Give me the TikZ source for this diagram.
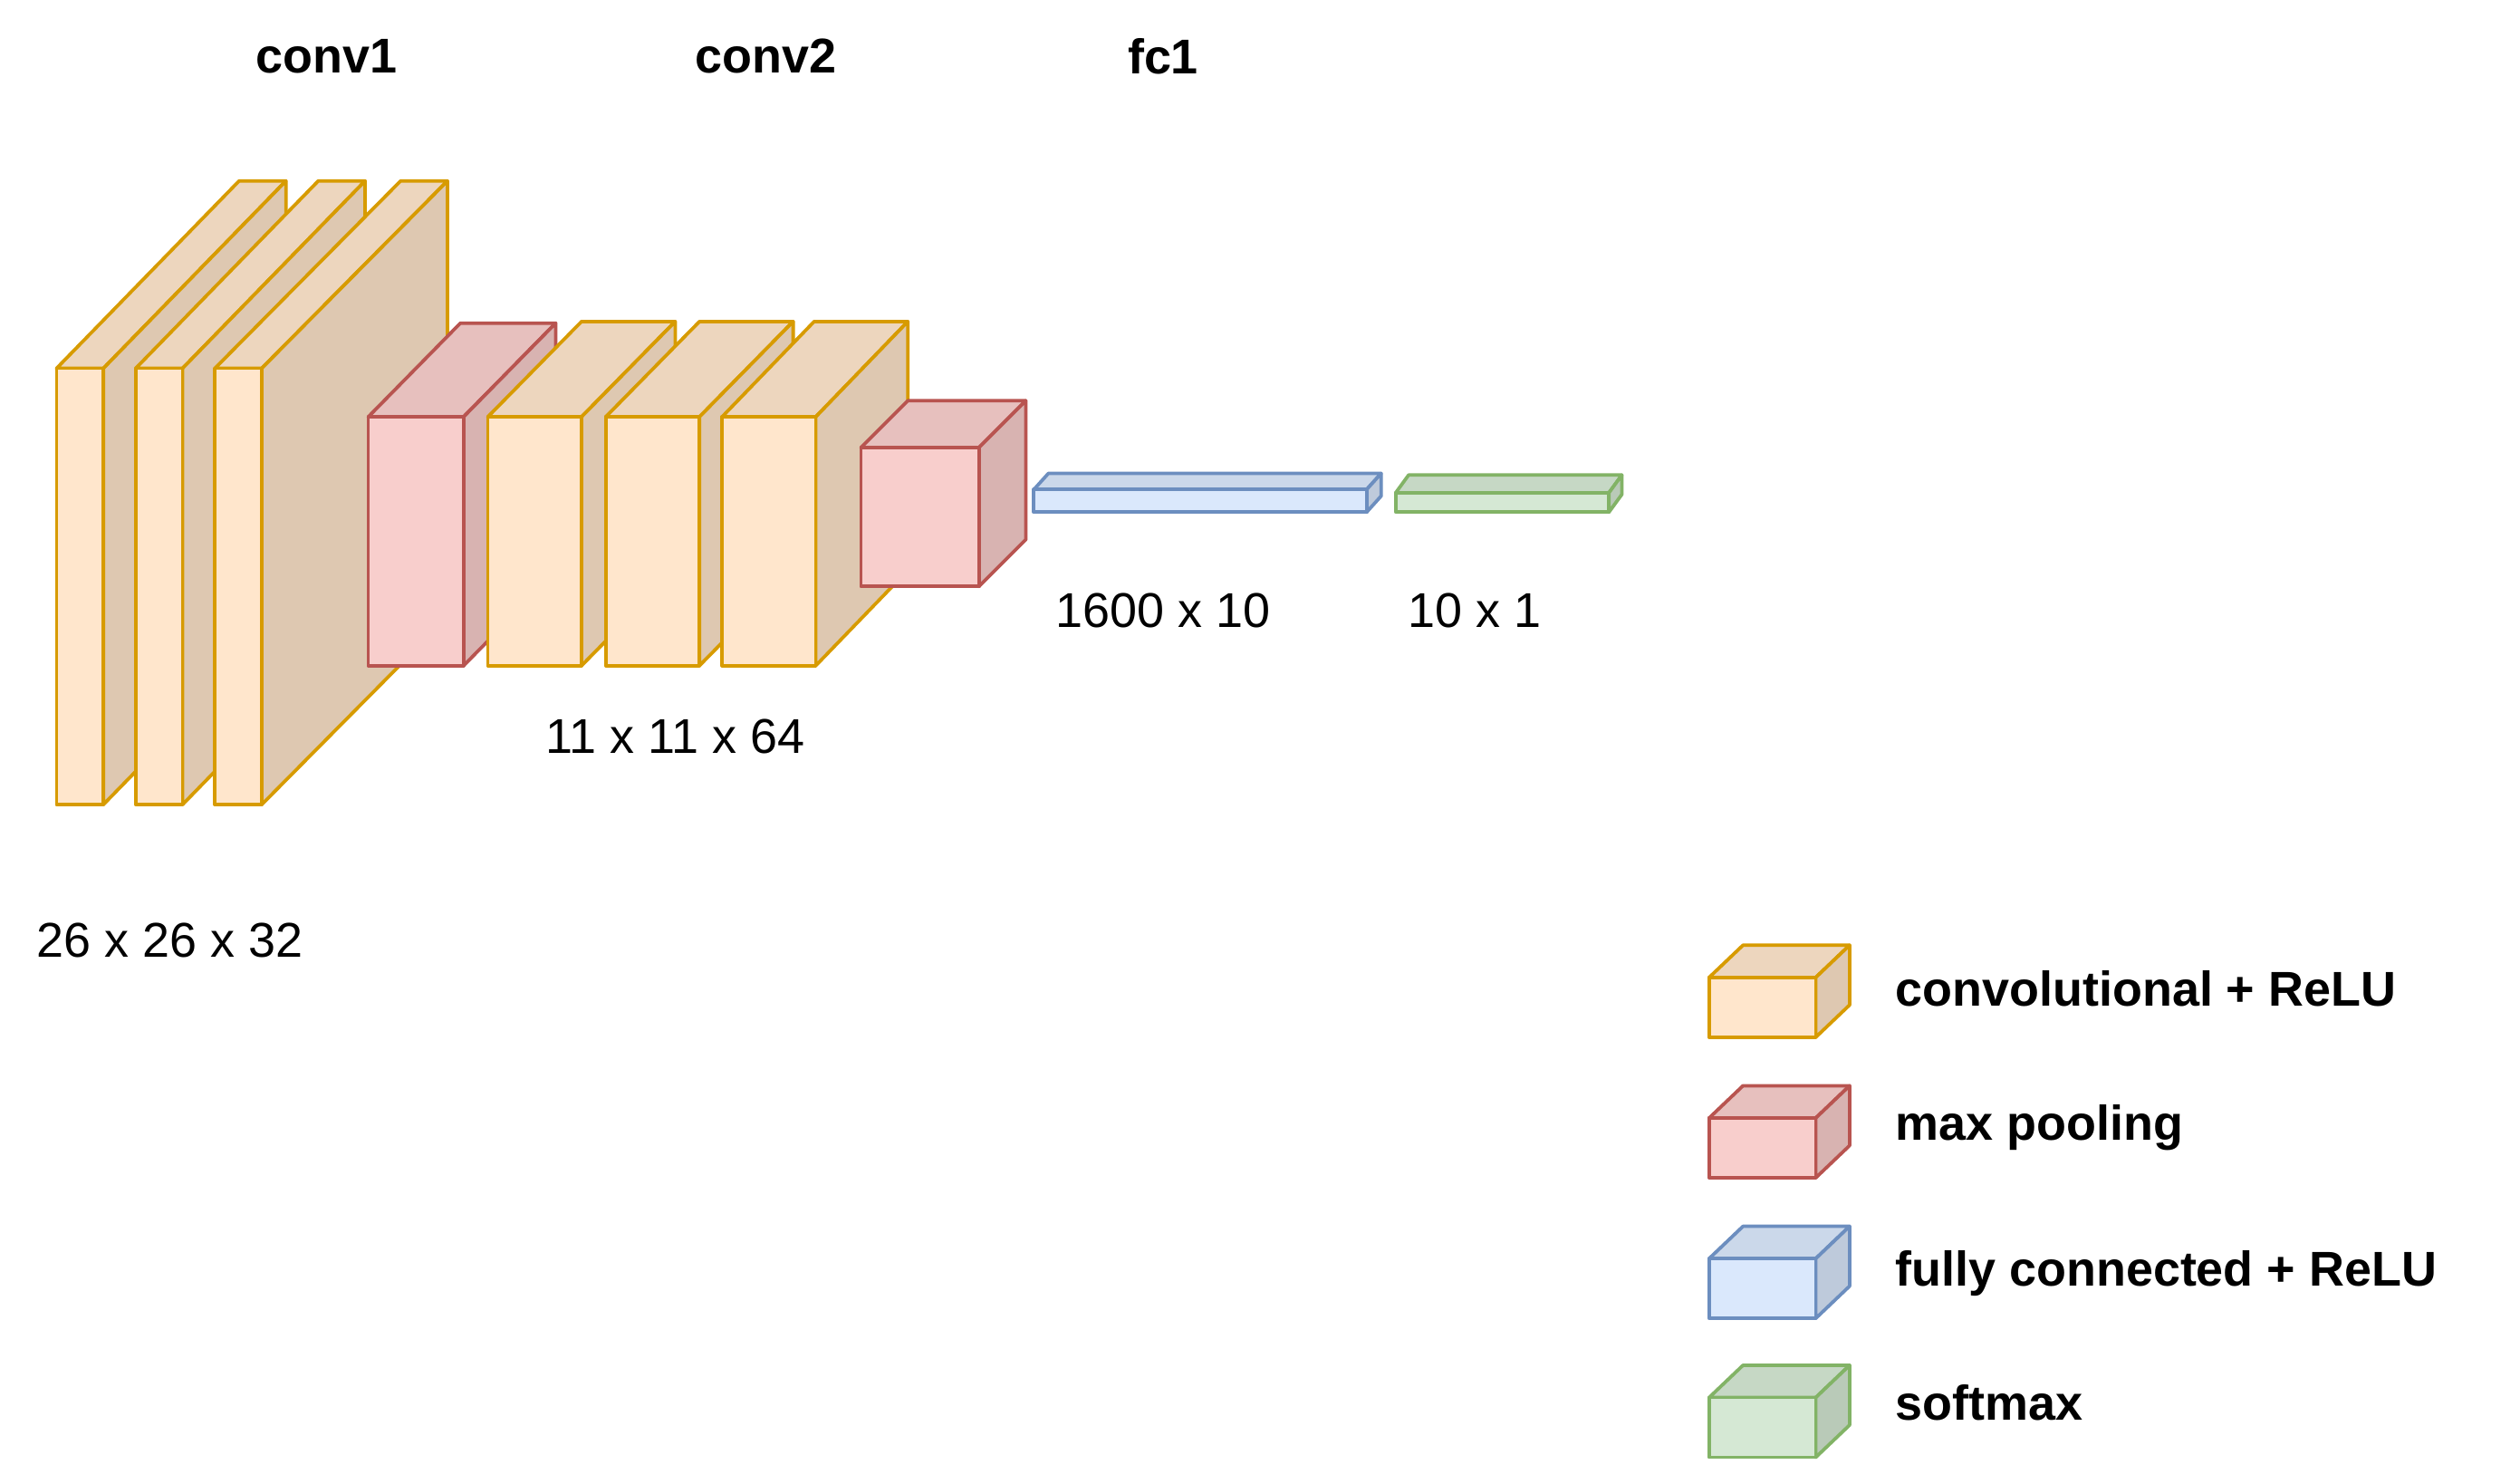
\documentclass[tikz,border=0pt]{standalone}
\usepackage{fontspec}
\setmainfont{Liberation Sans}
\definecolor{oF}{HTML}{FFE6CC}\definecolor{oS}{HTML}{D79B00}
\definecolor{rF}{HTML}{F8CECC}\definecolor{rS}{HTML}{B85450}
\definecolor{bF}{HTML}{DAE8FC}\definecolor{bS}{HTML}{6C8EBF}
\definecolor{gF}{HTML}{D5E8D4}\definecolor{gS}{HTML}{82B366}
\newcommand\cuboid[8]{% x y w h dx dy fill stroke
 \draw[fill=#7!93!black,draw=#8] (#1,#2) -- ++(#5,-#6) -- ++(#3,0) -- ++(-#5,#6) -- cycle;
 \draw[fill=#7!87!black,draw=#8] (#1+#3,#2) -- ++(#5,-#6) -- ++(0,#4) -- ++(-#5,#6) -- cycle;
 \draw[fill=#7,draw=#8] (#1,#2) rectangle ++(#3,#4);}
\begin{document}
\begin{tikzpicture}[x={(0.05cm,0)},y={(0,-0.05cm)},line width=3pt,line join=round,
 lab/.style={font=\fontsize{43}{47}\selectfont},
 head/.style={font=\fontsize{43}{47}\selectfont\bfseries},
 leg/.style={font=\fontsize{43}{47}\selectfont\bfseries,anchor=west}]
\useasboundingbox (0,0) rectangle (1560,918);
% conv1
\cuboid{35}{228}{29}{270}{113}{116}{oF}{oS}
\cuboid{84}{228}{29}{270}{113}{116}{oF}{oS}
\cuboid{133}{228}{29}{270}{115}{116}{oF}{oS}
% pool1
\cuboid{228}{258}{59}{154}{57}{58}{rF}{rS}
% conv2
\cuboid{302}{258}{58}{154}{58}{59}{oF}{oS}
\cuboid{375}{258}{58}{154}{58}{59}{oF}{oS}
\cuboid{447}{258}{58}{154}{57}{59}{oF}{oS}
% pool2
\cuboid{533}{277}{73}{86}{29}{29}{rF}{rS}
% fc
\cuboid{640}{303}{206}{14}{9}{10}{bF}{bS}
\cuboid{864}{305}{132}{12}{8}{11}{gF}{gS}
% labels
\node[head] (t1) at (202,35) {conv1};
\node[head] (t2) at (474,35) {conv2};
\node[head] (t3) at (720,35) {fc1};
\node[lab] (l1) at (105,582) {26 x 26 x 32};
\node[lab] (l2) at (418,456) {11 x 11 x 64};
\node[lab] (l3) at (720,378) {1600 x 10};
\node[lab] (l4) at (913,378) {10 x 1};
% legend
\cuboid{1058}{605}{66}{37}{21}{20}{oF}{oS}
\cuboid{1058}{692}{66}{37}{21}{20}{rF}{rS}
\cuboid{1058}{779}{66}{37}{21}{20}{bF}{bS}
\cuboid{1058}{865}{66}{37}{21}{20}{gF}{gS}
\node[leg] (g1) at (1170,612) {convolutional + ReLU};
\node[leg] (g2) at (1170,698) {max pooling};
\node[leg] (g3) at (1170,788) {fully connected + ReLU};
\node[leg] (g4) at (1170,868) {softmax};
\end{tikzpicture}
\end{document}
